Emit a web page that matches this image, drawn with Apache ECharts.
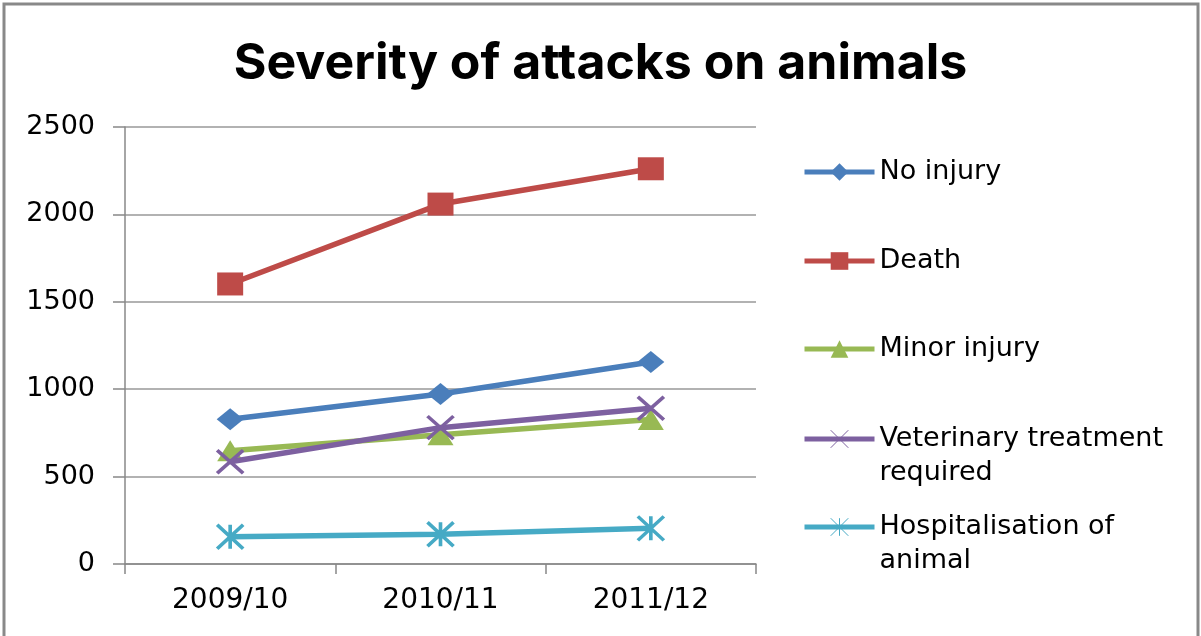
<!DOCTYPE html>
<html>
<head>
<meta charset="utf-8">
<script src="https://cdn.jsdelivr.net/npm/echarts@6/dist/echarts.min.js"></script>
<style>
html,body{margin:0;padding:0;background:#fff;}
#chart{width:1201px;height:636px;}
</style>
</head>
<body>
<div id="chart"></div>
<script>
const categories = ['2009/10', '2010/11', '2011/12'];
const seriesNames = ['No injury', 'Death', 'Minor injury', 'Veterinary treatment required', 'Hospitalisation of animal'];
const noInjury = [828, 973, 1156];
const death = [1602, 2059, 2261];
const minorInjury = [648, 740, 826];
const vetTreatment = [585, 780, 891];
const hospitalisation = [156, 170, 204];
const yTicks = [0, 500, 1000, 1500, 2000, 2500];

const colors = ['#4A7EBB', '#BE4B48', '#98B954', '#7D60A0', '#46AAC5'];
const allData = [noInjury, death, minorInjury, vetTreatment, hospitalisation];
const symbols = [
  'diamond', 'rect', 'triangle',
  'path://M0,0L10,9M10,0L0,9',
  'path://M0,0L10,10M10,0L0,10M5,0L5,10'
];
const symbolSizes = [[27, 22], [26, 23], [26, 21], [26, 23], [26, 24]];
const FONT = 'DejaVu Sans';

const series = seriesNames.map((name, i) => {
  const pathSym = i >= 3;
  return {
    name: name,
    type: 'line',
    data: allData[i],
    symbol: symbols[i],
    symbolSize: symbolSizes[i],
    symbolKeepAspect: false,
    lineStyle: { color: colors[i], width: 5.5 },
    itemStyle: {
      color: colors[i],
      borderColor: colors[i],
      borderWidth: pathSym ? 3.5 : 0
    },
    emphasis: { disabled: true },
    z: 2 + i
  };
});

const legendLabels = {
  'Veterinary treatment required': '\nVeterinary treatment\nrequired',
  'Hospitalisation of animal': '\nHospitalisation of\nanimal'
};
const legendTops = [155, 244, 332, 388, 476];
const legends = seriesNames.map((name, i) => {
  const twoLine = i >= 3;
  return {
    data: [name],
    orient: 'vertical',
    left: 802,
    top: legendTops[i],
    padding: 0,
    itemWidth: 70,
    itemHeight: 22,
    itemGap: 5,
    selectedMode: false,
    formatter: function (n) { return legendLabels[n] || n; },
    lineStyle: { width: 5 },
    itemStyle: twoLine ? { borderWidth: 1 } : {},
    textStyle: {
      fontFamily: FONT,
      fontSize: 27,
      color: '#000',
      lineHeight: 34
    }
  };
});

const chart = echarts.init(document.getElementById('chart'), null, { renderer: 'canvas' });
chart.setOption({
  animation: false,
  backgroundColor: '#fff',
  title: {
    text: 'Severity of attacks on animals',
    left: 'center',
    top: 34,
    textStyle: { fontFamily: 'Inter', fontWeight: 'bold', fontSize: 50, color: '#000' }
  },
  graphic: [{
    type: 'rect',
    shape: { x: 4, y: 4, width: 1194, height: 700 },
    style: { fill: 'none', stroke: '#898989', lineWidth: 3 },
    silent: true
  }],
  legend: legends,
  grid: { left: 125, top: 127, right: 445, bottom: 72, containLabel: false },
  xAxis: {
    type: 'category',
    data: categories,
    boundaryGap: true,
    axisLine: { lineStyle: { color: '#888', width: 1.5 } },
    axisTick: { show: true, length: 10, alignWithLabel: false, lineStyle: { color: '#888', width: 1.5 } },
    axisLabel: { fontFamily: FONT, fontSize: 28, color: '#000', margin: 23 },
    splitLine: { show: false }
  },
  yAxis: {
    type: 'value',
    min: yTicks[0],
    max: yTicks[yTicks.length - 1],
    interval: yTicks[1] - yTicks[0],
    axisLine: { show: true, lineStyle: { color: '#888', width: 1.5 } },
    axisTick: { show: true, length: 12, lineStyle: { color: '#888', width: 1.5 } },
    axisLabel: { fontFamily: FONT, fontSize: 27, color: '#000', margin: 30, formatter: function (v) { return String(v); } },
    splitLine: { show: true, lineStyle: { color: '#999', width: 1.5 } }
  },
  series: series
});
</script>
</body>
</html>
